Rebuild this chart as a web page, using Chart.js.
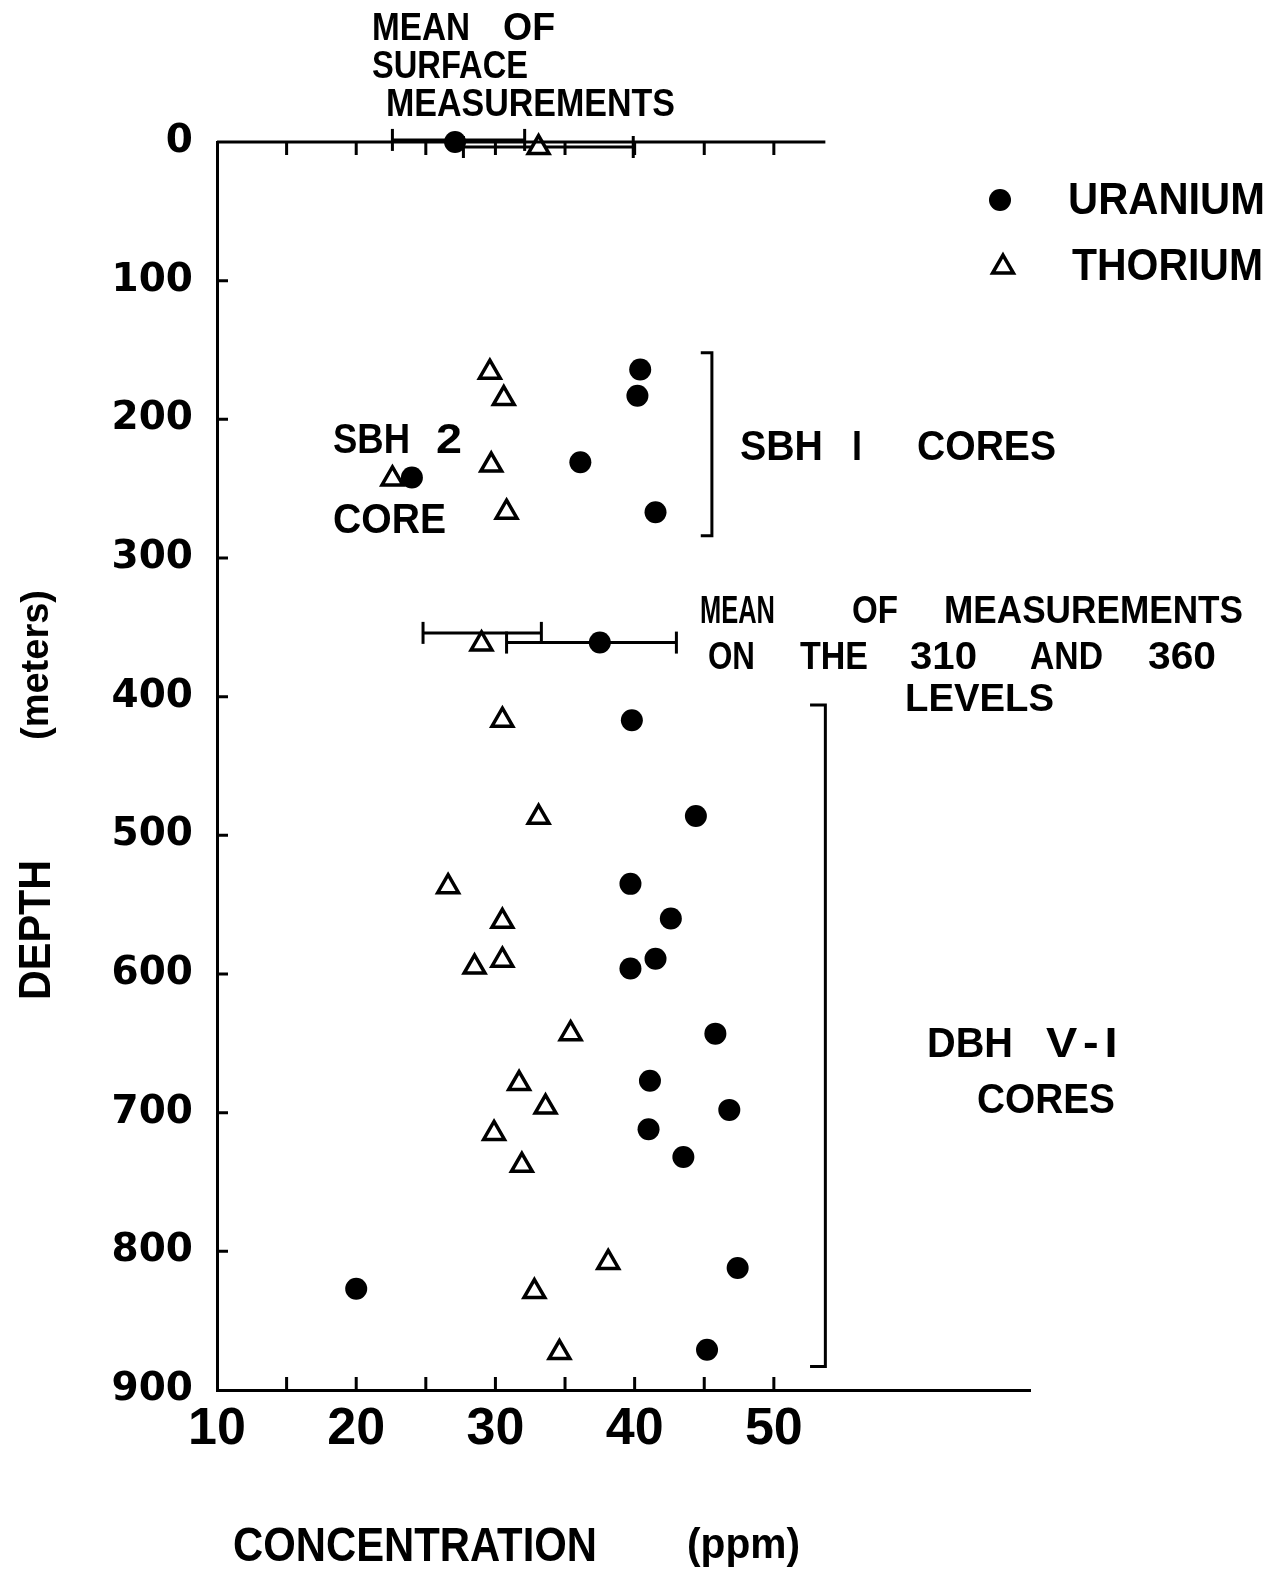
<!DOCTYPE html>
<html>
<head>
<meta charset="utf-8">
<script src="https://cdn.jsdelivr.net/npm/chart.js@4.4.1/dist/chart.umd.min.js"></script>
<style>
  html, body { margin: 0; padding: 0; background: #fff; }
  canvas { display: block; }
</style>
</head>
<body>
<canvas id="chart" width="1277" height="1570"></canvas>
<script>
// valores (ppm x profundidade em metros)
const uraniumPpm   = [40.4, 40.2, 36.1, 41.5, 24.0, 39.8, 44.4, 39.7, 42.6, 41.5, 39.7, 45.8, 41.1, 46.8, 41.0, 43.5, 47.4, 20.0, 45.2];
const uraniumDepth = [164, 183, 231, 267, 242, 417, 486, 535, 560, 589, 596, 643, 677, 698, 712, 732, 812, 827, 871];
const thoriumPpm   = [29.6, 30.6, 29.7, 30.8, 22.6, 30.5, 33.1, 26.6, 30.5, 28.5, 30.5, 35.4, 31.7, 33.6, 29.9, 31.9, 38.1, 32.8, 34.6];
const thoriumDepth = [166, 185, 233, 267, 243, 417, 487, 537, 562, 595, 590, 643, 679, 696, 715, 738, 808, 829, 873];

// médias (superfície e níveis 310/360) com barras de erro
const meanUraniumPpm   = [27.1, 37.5];
const meanUraniumDepth = [0, 361];
const meanUraniumLow   = [22.6, 30.8];
const meanUraniumHigh  = [32.1, 43.0];
const meanUraniumBar   = [-1.5, 361];
const meanThoriumPpm   = [33.1, 29.0];
const meanThoriumDepth = [4, 362];
const meanThoriumLow   = [27.7, 24.8];
const meanThoriumHigh  = [39.9, 33.3];
const meanThoriumBar   = [3.6, 354];

// colchetes dos grupos de testemunhos
const sbh1Bracket = [[44.75, 152], [45.55, 152], [45.55, 284], [44.75, 284]];
const dbhBracket  = [[52.6, 406], [53.7, 406], [53.7, 883], [52.6, 883]];

const xTickLabels = [10, 20, 30, 40, 50];
const xMinorTicks = [15, 20, 25, 30, 35, 40, 45, 50];
const yTickMarks  = [100, 200, 300, 400, 500, 600, 700, 800];
const topLineEnd  = 53.7;

const toPoints = (xs, ys) => xs.map((v, i) => ({ x: v, y: ys[i] }));

const TEXT_FONT = '"Liberation Sans Narrow", "Liberation Sans", Arial, sans-serif';

// textos: [texto, x inicial, x final, centro y, altura das maiúsculas]
const labels = [
  ['MEAN', 372, 470, 26, 28], ['OF', 503, 555, 26, 28],
  ['SURFACE', 372, 528, 64, 28],
  ['MEASUREMENTS', 386, 675, 102, 28],
  ['SBH', 333, 410, 438, 30], ['2', 436, 462, 438, 30],
  ['CORE', 333, 446, 518, 30],
  ['SBH', 740, 823, 445, 30], ['I', 852, 862, 445, 30], ['CORES', 917, 1056, 445, 30],
  ['MEAN', 700, 775, 609, 28], ['OF', 852, 898, 609, 28], ['MEASUREMENTS', 944, 1243, 609, 28],
  ['ON', 708, 755, 655, 28], ['THE', 800, 868, 655, 28], ['310', 910, 977, 655, 28],
  ['AND', 1030, 1103, 655, 28], ['360', 1148, 1216, 655, 28],
  ['LEVELS', 905, 1054, 697, 28],
  ['DBH', 927, 1013, 1042, 30], ['V-I', 1046, 1115, 1042, 30],
  ['CORES', 977, 1115, 1098, 30],
  ['URANIUM', 1068, 1265, 198, 32],
  ['THORIUM', 1072, 1263, 264, 32],
  ['CONCENTRATION', 233, 597, 1543, 35], ['(ppm)', 687, 800, 1543, 30]
];
// título vertical: [texto, y inicial (embaixo), y final, centro x, altura]
const vLabels = [
  ['DEPTH', 1000, 860, 34, 32],
  ['(meters)', 740, 590, 34, 28]
];

// desenha o texto ocupando a largura pedida; se precisar esticar muito, abre o espaço entre letras
function fitText(ctx, str, x0, x1, yc, capH) {
  const size = capH / 0.716;
  ctx.font = 'bold ' + size + 'px ' + TEXT_FONT;
  ctx.textAlign = 'left';
  ctx.textBaseline = 'alphabetic';
  const target = x1 - x0;
  const w = ctx.measureText(str).width;
  const ratio = target / w;
  const sx = Math.min(ratio, 1.12);
  ctx.save();
  ctx.translate(x0, yc);
  if (ratio <= 1.12) {
    ctx.scale(sx, 1);
    ctx.fillText(str, 0, capH / 2);
  } else if (str.length === 1) {
    ctx.translate((target - w * sx) / 2, 0);
    ctx.scale(sx, 1);
    ctx.fillText(str, 0, capH / 2);
  } else {
    const gap = (target - w * sx) / (str.length - 1);
    let pos = 0;
    for (const ch of str) {
      ctx.save();
      ctx.translate(pos, 0);
      ctx.scale(sx, 1);
      ctx.fillText(ch, 0, capH / 2);
      ctx.restore();
      pos += ctx.measureText(ch).width * sx + gap;
    }
  }
  ctx.restore();
}

const decorations = {
  id: 'decorations',
  afterDraw(chart) {
    const { ctx, scales: { x, y } } = chart;
    ctx.save();
    ctx.strokeStyle = '#000';
    ctx.fillStyle = '#000';
    ctx.lineWidth = 3;

    // linha da superfície (profundidade 0) com marcas para baixo
    const y0 = y.getPixelForValue(0);
    ctx.beginPath();
    ctx.moveTo(x.getPixelForValue(10), y0);
    ctx.lineTo(x.getPixelForValue(topLineEnd), y0);
    xMinorTicks.forEach(v => {
      const px = x.getPixelForValue(v);
      ctx.moveTo(px, y0);
      ctx.lineTo(px, y0 + 13);
    });
    // marcas internas do eixo x
    const yb = y.getPixelForValue(900);
    xMinorTicks.forEach(v => {
      const px = x.getPixelForValue(v);
      ctx.moveTo(px, yb);
      ctx.lineTo(px, yb - 13);
    });
    // marcas internas do eixo y
    const xl = x.getPixelForValue(10);
    yTickMarks.forEach(v => {
      const py = y.getPixelForValue(v);
      ctx.moveTo(xl, py);
      ctx.lineTo(xl + 11, py);
    });
    ctx.stroke();

    // legenda
    const helpers = Chart.helpers;
    helpers.drawPoint(ctx, { pointStyle: 'circle', radius: 11, borderWidth: 0 }, 1000, 200);
    ctx.fillStyle = '#fff';
    ctx.lineWidth = 3.5;
    helpers.drawPoint(ctx, { pointStyle: 'triangle', radius: 12, borderWidth: 3.5 }, 1003, 267);
    ctx.fillStyle = '#000';

    labels.forEach(l => fitText(ctx, l[0], l[1], l[2], l[3], l[4]));
    vLabels.forEach(l => {
      ctx.save();
      ctx.translate(l[3], 0);
      ctx.rotate(-Math.PI / 2);
      fitText(ctx, l[0], -l[1], -l[2], 0, l[4]);
      ctx.restore();
    });
    ctx.restore();
  }
};

const errorBar = (lo, hi, d) => ({
  data: [{ x: lo, y: d }, { x: hi, y: d }],
  showLine: true,
  borderColor: '#000',
  borderWidth: 3,
  pointStyle: 'line',
  rotation: 90,
  pointRadius: 11,
  pointBorderWidth: 3,
  pointBorderColor: '#000',
  clip: false
});

const bracket = pts => ({
  data: pts.map(p => ({ x: p[0], y: p[1] })),
  showLine: true,
  borderColor: '#000',
  borderWidth: 3,
  pointRadius: 0,
  clip: false
});

const datasets = [
  {
    label: 'URANIUM',
    data: toPoints(uraniumPpm, uraniumDepth).concat(toPoints(meanUraniumPpm, meanUraniumDepth)),
    pointStyle: 'circle',
    pointRadius: 11,
    backgroundColor: '#000',
    borderWidth: 0,
    clip: false
  },
  {
    label: 'THORIUM',
    data: toPoints(thoriumPpm, thoriumDepth).concat(toPoints(meanThoriumPpm, meanThoriumDepth)),
    pointStyle: 'triangle',
    pointRadius: 12,
    backgroundColor: '#fff',
    borderColor: '#000',
    borderWidth: 3.5,
    clip: false
  }
];
meanUraniumPpm.forEach((v, i) => datasets.push(errorBar(meanUraniumLow[i], meanUraniumHigh[i], meanUraniumBar[i])));
meanThoriumPpm.forEach((v, i) => datasets.push(errorBar(meanThoriumLow[i], meanThoriumHigh[i], meanThoriumBar[i])));
datasets.push(bracket(sbh1Bracket));
datasets.push(bracket(dbhBracket));

const ctx = document.getElementById('chart').getContext('2d');
const chart = new Chart(ctx, {
  type: 'scatter',
  data: { datasets: datasets },
  options: {
    responsive: false,
    devicePixelRatio: 1,
    animation: false,
    layout: { padding: { top: 142, right: 247, bottom: 0, left: 0 } },
    plugins: {
      legend: { display: false },
      tooltip: { enabled: false }
    },
    scales: {
      x: {
        type: 'linear',
        position: 'bottom',
        min: 10,
        max: 68.4,
        afterBuildTicks: s => { s.ticks = xTickLabels.map(v => ({ value: v })); },
        afterFit: s => { s.height = 180; },
        grid: { display: false, drawTicks: false },
        border: { display: true, color: '#000', width: 3 },
        ticks: {
          color: '#000',
          padding: 8,
          font: { family: '"Liberation Sans", Arial, sans-serif', size: 52, weight: 'bold' }
        }
      },
      y: {
        type: 'linear',
        reverse: true,
        min: 0,
        max: 900,
        afterFit: s => { s.width = 217; },
        grid: { display: false, drawTicks: false },
        border: { display: true, color: '#000', width: 3 },
        ticks: {
          stepSize: 100,
          color: '#000',
          padding: 24,
          font: { family: '"DejaVu Sans", sans-serif', size: 39, weight: 'bold' }
        }
      }
    }
  },
  plugins: [decorations]
});
</script>
</body>
</html>
